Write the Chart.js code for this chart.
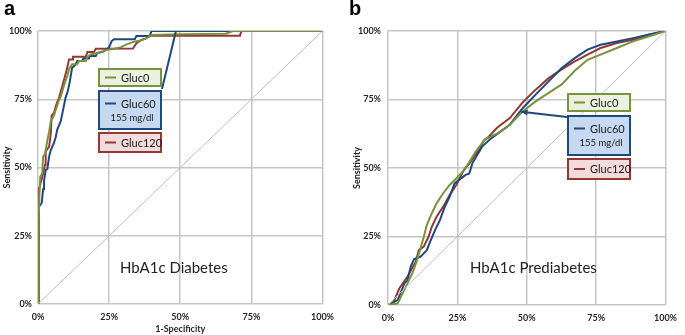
<!DOCTYPE html>
<html><head><meta charset="utf-8">
<script src="https://cdn.jsdelivr.net/npm/chart.js@4.4.0/dist/chart.umd.min.js"></script>
<style>
html,body{margin:0;padding:0;background:#fff;width:685px;height:335px;overflow:hidden;}
.wrap{position:absolute;top:0;height:335px;}
#wa{left:0;width:342px;}
#wb{left:343px;width:342px;}
canvas{display:block;}
</style></head><body>
<div class="wrap" id="wa"><canvas id="ca" width="342" height="335"></canvas></div>
<div class="wrap" id="wb"><canvas id="cb" width="342" height="335"></canvas></div>
<script>
// ---------- data ----------
const tickValues = [0, 25, 50, 75, 100];
const tickLabels = ['0%', '25%', '50%', '75%', '100%'];
const seriesNames = ['Gluc0', 'Gluc60', 'Gluc120'];
const seriesNote = '155 mg/dl';
const panelNames = ['a', 'b'];
const panelTitles = ['HbA1c Diabetes', 'HbA1c Prediabetes'];
const xTitle = '1-Specificity';
const yTitle = 'Sensitivity';
const diagX = [0, 100];
const diagY = [0, 100];

// Panel a (HbA1c Diabetes)
const aGluc0X = [0, 0.2, 0.5, 0.8, 1.5, 1.8, 2.5, 3.3, 3.9, 4.5, 5.6, 6.5, 7.3, 8, 9.1, 10.3, 10.9, 12, 13.8, 14.4, 16.8, 17.4, 18.5, 21.5, 23.8, 26.7, 29, 31, 33.4, 36, 38, 39.9, 50, 66, 68.6, 100];
const aGluc0Y = [0, 30, 40, 46.6, 48, 54, 55, 60, 63, 67, 69, 72, 74.5, 76, 80, 83.5, 86, 87.8, 87.8, 89, 89, 90.6, 91.4, 92, 93, 93.5, 94, 95, 96, 96.5, 97.3, 98.5, 98.8, 99, 100, 100];
const aGluc60X = [0, 0.2, 0.35, 1.3, 1.5, 1.8, 2.1, 2.7, 3.3, 3.9, 4.5, 5.6, 6.2, 6.8, 8, 8.6, 9.1, 9.7, 10.3, 10.9, 11.5, 12, 13, 13.8, 15.6, 15.9, 17.9, 18.2, 20.3, 20.9, 23, 25, 25.9, 26.7, 34, 34.6, 39.3, 39.9, 100];
const aGluc60Y = [0, 25, 35.6, 37, 39, 42, 45, 49, 49.5, 54, 56.4, 59, 61, 64, 67, 70, 72.5, 75.6, 77.4, 79.9, 83.5, 86.6, 87.4, 89, 89, 89.9, 89.9, 90.8, 90.8, 92, 92.5, 94, 96.3, 97, 97, 98.2, 98.2, 100, 100];
const aGluc120X = [0, 0.1, 0.35, 0.6, 1.5, 2.5, 2.7, 3.9, 4.5, 4.8, 5.6, 6.4, 7.4, 8.6, 9.5, 10.3, 10.9, 12, 12.3, 16.8, 17.4, 19.7, 20.3, 33.4, 34.6, 36.3, 38, 39.5, 71, 71.5, 100];
const aGluc120Y = [0, 32, 41.8, 43, 46.6, 51, 56, 57.6, 62.5, 69, 70, 73, 75.6, 80, 83.5, 86.6, 89.6, 89.6, 90.6, 90.6, 92.3, 92.3, 93.5, 93.6, 95.5, 96.7, 97.3, 98.3, 98.3, 100, 100];
const aCallout = [48.5, 100];

// Panel b (HbA1c Prediabetes)
const bGluc0X = [0, 3.5, 5.9, 8.8, 10.5, 12.9, 14, 15.8, 17.5, 19.9, 22.2, 25.2, 27.5, 31.6, 35, 39.2, 43.9, 48.6, 53.2, 57.9, 62.6, 67.3, 71.9, 76.6, 82.5, 88.3, 94.2, 100];
const bGluc0Y = [0, 0.6, 5.5, 11.6, 16.4, 24.9, 29.2, 33.5, 37.1, 40.8, 43.8, 46.8, 49.3, 56, 60.5, 62.5, 65.8, 70.7, 74.3, 77.4, 80.5, 85.5, 89.5, 91.4, 93.8, 96.2, 98.1, 100];
const bGluc60X = [0, 2.35, 3.5, 5.9, 7, 8.2, 9.4, 11.7, 12.3, 14, 15.2, 17, 18.7, 20.5, 22.2, 24, 26.3, 28, 29.3, 30.4, 33.9, 37.4, 40.9, 43.9, 48.6, 53.2, 57.9, 62.6, 67.3, 71.9, 76.6, 82.5, 88.3, 94.2, 100];
const bGluc60Y = [0, 1.2, 1.8, 7.9, 9, 14, 16.8, 17.6, 18.2, 20, 23.1, 27.4, 31, 35.9, 39.5, 44.4, 46.2, 47.5, 48, 51.7, 57.8, 61, 63.5, 65.8, 71.9, 76.8, 81.6, 86.5, 90.1, 93.2, 95, 96.2, 97.4, 98.7, 100];
const bGluc120X = [0, 1.8, 4.1, 7, 10, 11.1, 12.9, 14.6, 15.8, 17.5, 19.9, 22.2, 24.6, 25.7, 27.5, 29.2, 32.7, 34.5, 36.3, 39.2, 43.9, 48.6, 53.2, 57.9, 62.6, 67.3, 71.9, 76.6, 82.5, 88.3, 94.2, 100];
const bGluc120Y = [0, 0.6, 6.1, 10.3, 15.8, 20, 21.3, 24.9, 28.6, 32.2, 35.9, 40.1, 43.8, 46, 49.5, 51.5, 56.5, 60, 61.4, 64.6, 68.2, 74, 78.6, 82.8, 86, 88.9, 91.4, 93.8, 95.6, 96.8, 98.7, 100];
const bCallout = [48, 70.5];

// ---------- styles ----------
const COLORS = ['#77933C', '#1F497D', '#953735'];
const FILLS = ['#EBF1DE', '#C6D9F1', '#F2DCDB'];
const GRID = '#C6C6C6';
const TXT = '#262626';
const FONT = 'Lato, "Liberation Sans", sans-serif';

function pts(xs, ys) { return xs.map((x, i) => ({ x: x, y: ys[i] })); }

function makeDatasets(series) {
  const ds = [{
    data: pts(diagX, diagY), borderColor: '#BDBDBD', borderWidth: 1, showLine: true, pointRadius: 0
  }];
  series.forEach((s, i) => ds.push({
    label: seriesNames[i], data: pts(s[0], s[1]), borderColor: COLORS[i], borderWidth: 2,
    showLine: true, pointRadius: 0, tension: 0
  }));
  return ds;
}

function calloutPlugin(cfg) {
  return {
    id: 'callout' + cfg.name,
    afterDatasetsDraw(chart) {
      const ctx = chart.ctx;
      const xs = chart.scales.x, ys = chart.scales.y;
      ctx.save();
      // panel letter
      ctx.fillStyle = '#000';
      ctx.font = 'bold 20px "Liberation Sans", Arial, sans-serif';
      ctx.textBaseline = 'alphabetic';
      ctx.textAlign = 'left';
      ctx.fillText(cfg.name, cfg.letterX, 15);
      // panel caption
      ctx.fillStyle = '#222';
      ctx.font = '15px ' + FONT;
      ctx.fillText(cfg.title, cfg.titleX, 273);
      // connector
      const tx = xs.getPixelForValue(cfg.callout[0]);
      const ty = ys.getPixelForValue(cfg.callout[1]);
      ctx.strokeStyle = COLORS[1];
      ctx.lineWidth = 2;
      ctx.beginPath();
      ctx.moveTo(cfg.anchor[0], cfg.anchor[1]);
      ctx.lineTo(tx, ty);
      ctx.stroke();
      if (cfg.arrow) {
        const ang = Math.atan2(ty - cfg.anchor[1], tx - cfg.anchor[0]);
        ctx.fillStyle = COLORS[1];
        ctx.beginPath();
        ctx.moveTo(tx, ty);
        ctx.lineTo(tx - 7 * Math.cos(ang - 0.45), ty - 7 * Math.sin(ang - 0.45));
        ctx.lineTo(tx - 7 * Math.cos(ang + 0.45), ty - 7 * Math.sin(ang + 0.45));
        ctx.closePath();
        ctx.fill();
      }
      // legend boxes
      const bx = cfg.boxX, bw = 62;
      cfg.boxes.forEach((b, i) => {
        ctx.fillStyle = FILLS[i];
        ctx.strokeStyle = COLORS[i];
        ctx.lineWidth = 2;
        ctx.fillRect(bx, b[0], bw, b[1]);
        ctx.strokeRect(bx, b[0], bw, b[1]);
        const ly = i === 1 ? b[0] + 12.5 : b[0] + b[1] / 2;
        ctx.beginPath();
        ctx.moveTo(bx + 6, ly);
        ctx.lineTo(bx + 17, ly);
        ctx.stroke();
        ctx.fillStyle = '#1a1a1a';
        ctx.font = '11px ' + FONT;
        ctx.textBaseline = 'middle';
        ctx.textAlign = 'left';
        ctx.fillText(seriesNames[i], bx + 22, ly + 0.5);
        if (i === 1) {
          ctx.font = '9.5px ' + FONT;
          ctx.textAlign = 'center';
          ctx.fillText(seriesNote, bx + bw / 2 + 2, b[0] + 26.5);
        }
      });
      ctx.restore();
    }
  };
}

function makeChart(id, series, cfg) {
  return new Chart(document.getElementById(id), {
    type: 'scatter',
    data: { datasets: makeDatasets(series) },
    options: {
      responsive: false, animation: false,
      layout: { padding: { left: 0, right: cfg.padRight, top: 31, bottom: 0 } },
      plugins: { legend: { display: false }, tooltip: { enabled: false } },
      scales: {
        x: {
          type: 'linear', min: 0, max: 100,
          afterBuildTicks: s => { s.ticks = tickValues.map(v => ({ value: v })); },
          ticks: { callback: v => tickLabels[tickValues.indexOf(v)], font: { family: FONT, size: 9, weight: 'bold' }, color: TXT, padding: 8, maxRotation: 0, autoSkip: false },
          grid: { color: GRID, lineWidth: 1.5, drawTicks: false },
          border: { display: false },
          title: { display: cfg.showXTitle, text: xTitle, font: { family: FONT, size: 9, weight: 'bold' }, color: TXT, padding: { top: 0, bottom: 0.2 } },
          afterFit: s => { s.height = cfg.xHeight; }
        },
        y: {
          type: 'linear', min: 0, max: 100,
          afterBuildTicks: s => { s.ticks = tickValues.map(v => ({ value: v })); },
          ticks: { callback: v => tickLabels[tickValues.indexOf(v)], font: { family: FONT, size: 9, weight: 'bold' }, color: TXT, padding: cfg.yPad, autoSkip: false },
          grid: { color: GRID, lineWidth: 1.5, drawTicks: false },
          border: { display: false },
          title: { display: true, text: yTitle, font: { family: FONT, size: 9, weight: 'bold' }, color: TXT, padding: { top: cfg.yTitlePad, bottom: 0 } },
          afterFit: s => { s.width = cfg.yWidth; }
        }
      }
    },
    plugins: [calloutPlugin(cfg)]
  });
}

makeChart('ca', [[aGluc0X, aGluc0Y], [aGluc60X, aGluc60Y], [aGluc120X, aGluc120Y]], {
  name: panelNames[0], title: panelTitles[0], titleX: 120, letterX: 4,
  padRight: 19, xHeight: 31, yWidth: 38, yPad: 6, yTitlePad: 1.6, showXTitle: true,
  callout: aCallout, anchor: [162, 89], arrow: false,
  boxX: 99, boxes: [[69, 17], [91, 38], [133, 19]]
});
makeChart('cb', [[bGluc0X, bGluc0Y], [bGluc60X, bGluc60Y], [bGluc120X, bGluc120Y]], {
  name: panelNames[1], title: panelTitles[1], titleX: 127, letterX: 6,
  padRight: 12, xHeight: 30, yWidth: 45, yPad: 7, yTitlePad: 8.3, showXTitle: false,
  callout: bCallout, anchor: [224, 117], arrow: true,
  boxX: 225, boxes: [[94, 17], [116, 39], [159, 20]]
});
</script>
</body></html>
